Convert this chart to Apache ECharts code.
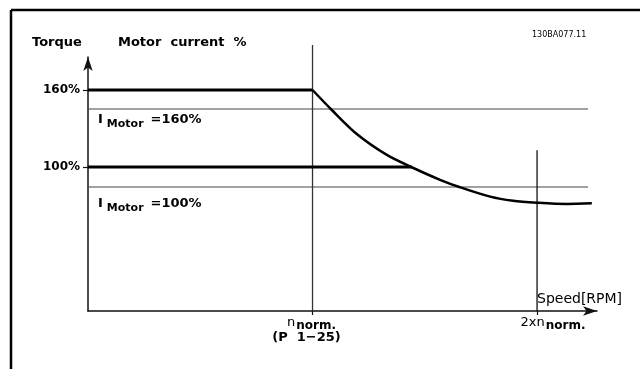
<!DOCTYPE html>
<html><head><meta charset="utf-8">
<script src="https://cdn.jsdelivr.net/npm/echarts@6/dist/echarts.min.js"></script>
<style>html,body{margin:0;padding:0;background:#fff}#c{width:640px;height:369px}</style>
</head><body><div id="c"></div>
<script>
// ---- data (speed in units of n_norm, torque/current in schematic %) ----
const xRange = [0, 2.267];
const yRange = [-12.2, 185.7];
const yTickValues = [100, 160];
const yTickLabels = ['100%', '160%'];
const xTickValues = [1, 2];
const limit160X = [0, 1];
const limit160Y = [160, 160];
const limit100X = [0, 1.442];
const limit100Y = [100, 100];
const current160X = [0, 2.227];
const current160Y = [145.2, 145.2];
const current100X = [0, 2.227];
const current100Y = [84.4, 84.4];
const curveX = [1.0, 1.086, 1.197, 1.331, 1.442, 1.568, 1.657, 1.791, 1.893, 1.999, 2.132, 2.244];
const curveY = [160, 144.4, 125.7, 109.4, 99.8, 90.0, 84.2, 76.9, 73.7, 72.2, 71.2, 71.7];
const nNormX = [1, 1];
const nNormY = [-12.2, 195];
const twoNX = [2, 2];
const twoNY = [-12.2, 113];
const currentLabels = ['=160%', '=100%'];

const zip = (xs, ys) => xs.map((x, i) => [x, ys[i]]);
const FONT = 'DejaVu Sans';

const chart = echarts.init(document.getElementById('c'), null, {renderer: 'canvas'});

function lineSeries(xs, ys, width, color, extra) {
  return Object.assign({
    type: 'line', data: zip(xs, ys), symbol: 'none', silent: true, animation: false,
    lineStyle: {width: width, color: color}, clip: false
  }, extra || {});
}

chart.setOption({
  animation: false,
  backgroundColor: '#fff',
  grid: {left: 88, right: 43, top: 57, bottom: 58},
  xAxis: {
    type: 'value', min: xRange[0], max: xRange[1],
    splitLine: {show: false},
    axisLine: {show: true, onZero: false, symbol: ['none', 'arrow'], symbolSize: [7, 14], lineStyle: {color: '#111', width: 1.5}},
    axisTick: {show: true, customValues: xTickValues, length: 4, lineStyle: {color: '#111', width: 1.2}},
    axisLabel: {
      show: true, customValues: xTickValues, margin: 5, color: '#000', fontFamily: FONT,
      formatter: v => v === 1 ? '{n|n}{s|norm.}{e|}\n{p|(P  1\u221225)}' : '{sp|}{n|2xn}{s|norm.}',
      rich: {
        n: {fontSize: 13, fontFamily: FONT, color: '#000', lineHeight: 14},
        s: {fontSize: 12, fontWeight: 'bold', fontFamily: FONT, color: '#000', lineHeight: 14, padding: [6, 0, 0, 1]},
        p: {fontSize: 13, fontWeight: 'bold', fontFamily: FONT, color: '#000', lineHeight: 16, padding: [0, 12, 0, 0]},
        e: {width: 2, lineHeight: 14},
        sp: {width: 32, lineHeight: 14}
      }
    }
  },
  yAxis: {
    type: 'value', min: yRange[0], max: yRange[1],
    splitLine: {show: false},
    axisLine: {show: true, onZero: false, symbol: ['none', 'arrow'], symbolSize: [7, 14], lineStyle: {color: '#111', width: 1.5}},
    axisTick: {show: true, customValues: yTickValues, length: 5, lineStyle: {color: '#111', width: 1.2}},
    axisLabel: {
      show: true, customValues: yTickValues, margin: 8, color: '#000',
      fontSize: 12, fontWeight: 'bold', fontFamily: FONT,
      formatter: v => yTickLabels[yTickValues.indexOf(v)] || ''
    }
  },
  series: [
    lineSeries(current160X, current160Y, 1.2, '#444'),
    lineSeries(current100X, current100Y, 1.2, '#444'),
    lineSeries(nNormX, nNormY, 1.3, '#333'),
    lineSeries(twoNX, twoNY, 1.3, '#111'),
    lineSeries(limit160X, limit160Y, 3.2, '#000'),
    lineSeries(limit100X, limit100Y, 3.2, '#000'),
    lineSeries(curveX, curveY, 2.5, '#000', {smooth: 0.3})
  ]
});

const rich = {
  i: {fontSize: 13, fontWeight: 'bold', fontFamily: FONT, color: '#000'},
  m: {fontSize: 11, fontWeight: 'bold', fontFamily: FONT, color: '#000', padding: [9, 7, 0, 4]},
  v: {fontSize: 13, fontWeight: 'bold', fontFamily: FONT, color: '#000'}
};
const p160 = chart.convertToPixel({gridIndex: 0}, [0, current160Y[0]]);
const p100 = chart.convertToPixel({gridIndex: 0}, [0, current100Y[0]]);

chart.setOption({
  graphic: [
    {type: 'line', shape: {x1: 11, y1: 10, x2: 640, y2: 10}, style: {stroke: '#000', lineWidth: 2.5}, silent: true},
    {type: 'line', shape: {x1: 11, y1: 10, x2: 11, y2: 369}, style: {stroke: '#000', lineWidth: 2.5}, silent: true},
    {type: 'text', left: 32, top: 36, style: {text: 'Torque', font: 'bold 13px "DejaVu Sans"', fill: '#000'}},
    {type: 'text', left: 118, top: 36, style: {text: 'Motor  current  %', font: 'bold 13px "DejaVu Sans"', fill: '#000'}},
    {type: 'text', left: 532, top: 31, style: {text: '130BA077.11', font: '8px "DejaVu Sans"', fill: '#000'}},
    {type: 'text', left: 537, top: 292, style: {text: 'Speed[RPM]', font: '14px "DejaVu Sans"', fill: '#000'}},
    {type: 'text', x: p160[0] + 10, y: p160[1] + 11, style: {text: '{i|I}{m|Motor}{v|' + currentLabels[0] + '}', rich: rich, verticalAlign: 'middle'}},
    {type: 'text', x: p100[0] + 10, y: p100[1] + 17, style: {text: '{i|I}{m|Motor}{v|' + currentLabels[1] + '}', rich: rich, verticalAlign: 'middle'}}
  ]
});
</script></body></html>
